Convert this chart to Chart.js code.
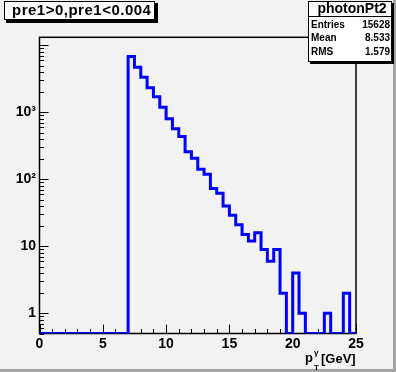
<!DOCTYPE html>
<html><head><meta charset="utf-8">
<script src="https://cdn.jsdelivr.net/npm/chart.js@4"></script>
<style>html,body{margin:0;padding:0;background:#f2f2f2;overflow:hidden}canvas{display:block}</style>
</head><body>
<canvas id="c" width="396" height="372"></canvas>
<script>
// ---- data ----
const binEdges = [0,0.5,1,1.5,2,2.5,3,3.5,4,4.5,5,5.5,6,6.5,7,7.5,8,8.5,9,9.5,10,10.5,11,11.5,12,12.5,13,13.5,14,14.5,15,15.5,16,16.5,17,17.5,18,18.5,19,19.5,20,20.5,21,21.5,22,22.5,23,23.5,24,24.5,25];
const counts = [0,0,0,0,0,0,0,0,0,0,0,0,0,0,
  6800,4700,3330,2330,1710,1190,800,570,435,258,206,141,119,73,62,40,29,21,15,12,16,9,6,9,2,0,4,1,0,0,0,1,0,0,2,0];
const xTickValues = [0,5,10,15,20,25];
const xTickLabels = ['0','5','10','15','20','25'];
const yTickValues = [1,10,100,1000];
const yTickLabels = ['1','10','10\u00B2','10\u00B3'];
const titleText = 'pre1>0,pre1<0.004';
const statsName = 'photonPt2';
const statsLabels = ['Entries','Mean','RMS'];
const statsValues = ['15628','8.533','1.579'];

const X_MIN = 0, X_MAX = 25, Y_MIN = 0.5, Y_MAX = 13200;
const FONT = "'Liberation Sans', Arial, Helvetica, sans-serif";

const points = [];
counts.forEach((c, i) => {
  const v = c > 0 ? c : Y_MIN;
  points.push({x: binEdges[i], y: v});
  points.push({x: binEdges[i+1], y: v});
});

const decor = {
  id: 'decor',
  beforeDraw(chart) {
    const ctx = chart.ctx;
    ctx.save();
    ctx.fillStyle = '#f2f2f2';
    ctx.fillRect(0, 0, chart.width, chart.height);
    ctx.restore();
  },
  beforeDatasetsDraw(chart) {
    const {ctx, chartArea: a, scales: {x, y}} = chart;
    ctx.save();
    ctx.strokeStyle = '#000';
    ctx.lineWidth = 1;
    ctx.beginPath();
    for (let v = X_MIN; v <= X_MAX; v += 1) {
      const px = Math.round(x.getPixelForValue(v)) + 0.5;
      const len = (v % 5 === 0) ? 9 : 4.5;
      ctx.moveTo(px, a.bottom); ctx.lineTo(px, a.bottom - len);
    }
    for (let e = -1; e <= 4; e++) {
      for (let k = 1; k <= 9; k++) {
        const v = k * Math.pow(10, e);
        if (v < Y_MIN || v > Y_MAX) continue;
        const py = Math.round(y.getPixelForValue(v)) + 0.5;
        const len = k === 1 ? 9 : 4.5;
        ctx.moveTo(a.left, py); ctx.lineTo(a.left + len, py);
      }
    }
    ctx.stroke();
    ctx.lineWidth = 1.5;
    ctx.strokeRect(a.left, a.top, a.right - a.left, a.bottom - a.top);
    ctx.restore();
  },
  afterDraw(chart) {
    const ctx = chart.ctx;
    ctx.save();
    // canvas border shading
    ctx.fillStyle = '#a4a4a4';
    ctx.fillRect(393, 0, 3, 372);
    ctx.fillRect(0, 369, 396, 3);
    // title box
    ctx.fillStyle = '#000';
    ctx.fillRect(6, 3, 152, 20);
    ctx.fillStyle = '#fff';
    ctx.fillRect(4, 1, 151, 19);
    ctx.strokeStyle = '#000'; ctx.lineWidth = 1;
    ctx.strokeRect(4.5, 1.5, 150, 18);
    ctx.fillStyle = '#000';
    ctx.font = 'bold 15px ' + FONT;
    if ('letterSpacing' in ctx) ctx.letterSpacing = '0.5px';
    ctx.textAlign = 'left'; ctx.textBaseline = 'middle';
    ctx.fillText(titleText, 12, 11);
    if ('letterSpacing' in ctx) ctx.letterSpacing = '0px';
    // stats box
    ctx.fillStyle = '#000';
    ctx.fillRect(310, 3, 84, 61);
    ctx.fillStyle = '#fff';
    ctx.fillRect(308, 1, 84, 61);
    ctx.strokeRect(308.5, 1.5, 83, 60);
    ctx.beginPath(); ctx.moveTo(308, 16.5); ctx.lineTo(392, 16.5); ctx.stroke();
    ctx.fillStyle = '#000';
    ctx.font = 'bold 14px ' + FONT;
    ctx.textAlign = 'center';
    ctx.fillText(statsName, 352, 9.5);
    ctx.font = 'bold 10px ' + FONT;
    const rowsY = [25.5, 38.5, 52];
    statsLabels.forEach((t, i) => {
      ctx.textAlign = 'left'; ctx.fillText(t, 311, rowsY[i]);
      ctx.textAlign = 'right'; ctx.fillText(statsValues[i], 390, rowsY[i]);
    });
    // x axis title
    ctx.textBaseline = 'alphabetic'; ctx.textAlign = 'left';
    ctx.font = 'bold 13px ' + FONT;
    ctx.fillText('p', 305, 362);
    ctx.fillText('[GeV]', 321, 363);
    ctx.font = 'bold 8px ' + FONT;
    ctx.fillText('\u03B3', 314, 355);
    ctx.fillText('T', 314, 370);
    ctx.restore();
  }
};

new Chart(document.getElementById('c'), {
  type: 'line',
  data: { datasets: [{
    data: points,
    borderColor: '#0000ff',
    borderWidth: 3,
    pointRadius: 0,
    tension: 0,
    fill: false
  }]},
  options: {
    responsive: false,
    animation: false,
    devicePixelRatio: 1,
    layout: { padding: { top: 37.3, right: 40, left: 0, bottom: 0 } },
    plugins: { legend: {display: false}, title: {display: false}, tooltip: {enabled: false} },
    scales: {
      x: {
        type: 'linear', min: X_MIN, max: X_MAX,
        grid: {display: false, drawTicks: false},
        border: {display: false},
        afterBuildTicks: s => { s.ticks = xTickValues.map(v => ({value: v})); },
        afterFit: s => { s.height = 38.5; },
        ticks: { autoSkip: false, maxRotation: 0, padding: 2, color: '#000',
          font: {family: FONT, weight: 'bold', size: 14},
          callback: (v, i) => xTickLabels[i] }
      },
      y: {
        type: 'logarithmic', min: Y_MIN, max: Y_MAX,
        grid: {display: false, drawTicks: false},
        border: {display: false},
        afterBuildTicks: s => { s.ticks = yTickValues.map(v => ({value: v})); },
        afterFit: s => { s.width = 39.5; },
        ticks: { autoSkip: false, padding: 3.5, color: '#000',
          font: {family: FONT, weight: 'bold', size: 14},
          callback: (v, i) => yTickLabels[i] }
      }
    }
  },
  plugins: [decor]
});
</script>
</body></html>
